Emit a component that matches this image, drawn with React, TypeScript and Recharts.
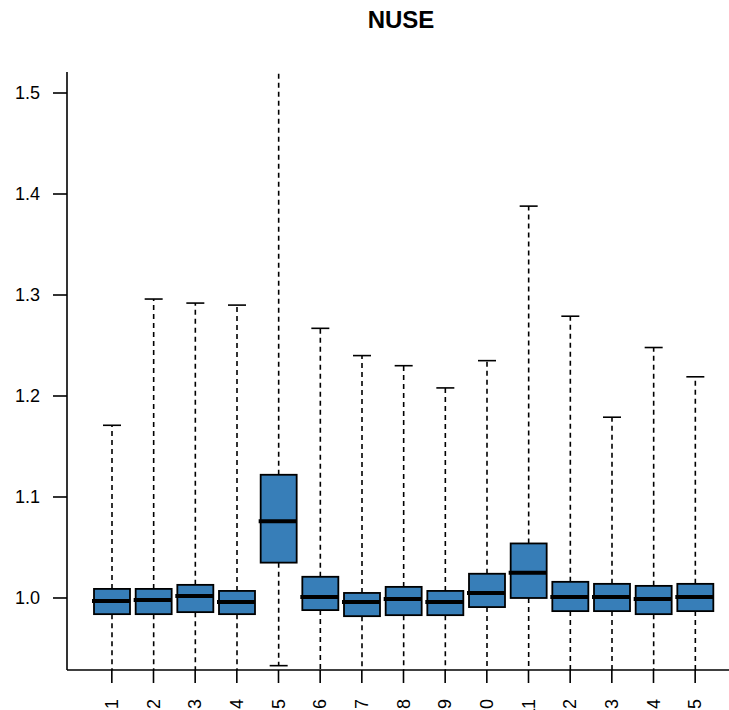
import { ComposedChart, Bar, XAxis, YAxis } from "recharts";

// NUSE per array
const arrays = ["1", "2", "3", "4", "5", "6", "7", "8", "9", "10", "11", "12", "13", "14", "15"];
const upperWhisker = [1.171, 1.296, 1.292, 1.29, 1.6, 1.267, 1.24, 1.23, 1.208, 1.235, 1.388, 1.279, 1.179, 1.248, 1.219];
const upperQuartile = [1.009, 1.009, 1.013, 1.007, 1.122, 1.021, 1.005, 1.011, 1.007, 1.024, 1.054, 1.016, 1.014, 1.012, 1.014];
const medians = [0.997, 0.998, 1.002, 0.996, 1.076, 1.001, 0.996, 0.999, 0.996, 1.005, 1.025, 1.001, 1.001, 0.999, 1.001];
const lowerQuartile = [0.984, 0.984, 0.986, 0.984, 1.035, 0.988, 0.982, 0.983, 0.983, 0.991, 1.0, 0.987, 0.987, 0.984, 0.987];
const lowerWhisker = [0.9, 0.9, 0.9, 0.9, 0.933, 0.9, 0.89, 0.9, 0.9, 0.91, 0.91, 0.9, 0.9, 0.9, 0.9];
const yTicks = [1.0, 1.1, 1.2, 1.3, 1.4, 1.5];

const data = arrays.map((name, i) => ({
  name,
  lo: lowerWhisker[i],
  q1: lowerQuartile[i],
  med: medians[i],
  q3: upperQuartile[i],
  hi: upperWhisker[i],
}));

const FONT = "'Liberation Sans', Arial, Helvetica, sans-serif";

const BoxShape = (props: any) => {
  const { x, y, width, height, payload } = props;
  const { lo, hi, q1, q3, med } = payload;
  // linear y scale: place quartiles/median between the whisker ends the bar was given
  const py = (v: number) => y + ((hi - v) / (hi - lo)) * height;
  const cx = x + width / 2;
  const cap = width / 4;
  return (
    <g>
      <line x1={cx} x2={cx} y1={py(q3)} y2={py(hi)} stroke="#000" strokeWidth={1.6} strokeDasharray="5 4" />
      <line x1={cx} x2={cx} y1={py(q1)} y2={py(lo)} stroke="#000" strokeWidth={1.6} strokeDasharray="5 4" />
      <line x1={cx - cap} x2={cx + cap} y1={py(hi)} y2={py(hi)} stroke="#000" strokeWidth={1.6} />
      <line x1={cx - cap} x2={cx + cap} y1={py(lo)} y2={py(lo)} stroke="#000" strokeWidth={1.6} />
      <rect x={x} y={py(q3)} width={width} height={py(q1) - py(q3)} fill="#377EB8" stroke="#000" strokeWidth={1.8} />
      <line x1={x - 2} x2={x + width} y1={py(med)} y2={py(med)} stroke="#000" strokeWidth={4} />
    </g>
  );
};

const RotatedTick = ({ x, y, payload }: any) => (
  <text
    transform={`translate(${x + 6},${y + 6}) rotate(-90)`}
    textAnchor="end"
    fontSize={18}
    fill="#000"
    fontFamily={FONT}
  >
    {payload.value}
  </text>
);

const axisStroke = { stroke: "#000", strokeWidth: 1.6 };

export default function App() {
  return (
    <div style={{ position: "absolute", left: 0, top: 0, width: 729, height: 710, overflow: "hidden", background: "#fff" }}>
      <div
        style={{
          position: "absolute",
          left: 0,
          top: 8,
          width: 802,
          textAlign: "center",
          fontFamily: FONT,
          fontWeight: "bold",
          fontSize: 24,
          lineHeight: "24px",
        }}
      >
        NUSE
      </div>
      <ComposedChart
        width={760}
        height={710}
        data={data}
        margin={{ top: 72, right: 19, bottom: 0, left: 0 }}
        style={{ fontFamily: FONT }}
      >
        <XAxis
          dataKey="name"
          height={40}
          padding={{ left: 24, right: 25 }}
          axisLine={axisStroke}
          tickLine={axisStroke}
          tickSize={13}
          tickMargin={10}
          tick={<RotatedTick />}
          interval={0}
        />
        <XAxis
          xAxisId="top"
          dataKey="name"
          orientation="top"
          height={0}
          axisLine={axisStroke}
          tick={false}
          tickLine={false}
        />
        <YAxis
          type="number"
          domain={[0.9287, 1.5208]}
          allowDataOverflow
          ticks={yTicks}
          width={67}
          axisLine={axisStroke}
          tickLine={axisStroke}
          tickSize={14}
          tickMargin={13}
          tick={{ fill: "#000", fontSize: 18 }}
          tickFormatter={(v: number) => v.toFixed(1)}
        />
        <YAxis
          yAxisId="right"
          orientation="right"
          type="number"
          domain={[0, 1]}
          width={0}
          axisLine={axisStroke}
          tick={false}
          tickLine={false}
        />
        <Bar
          dataKey={(d: any) => [d.lo, d.hi]}
          barSize={36}
          shape={<BoxShape />}
          isAnimationActive={false}
        />
      </ComposedChart>
    </div>
  );
}
